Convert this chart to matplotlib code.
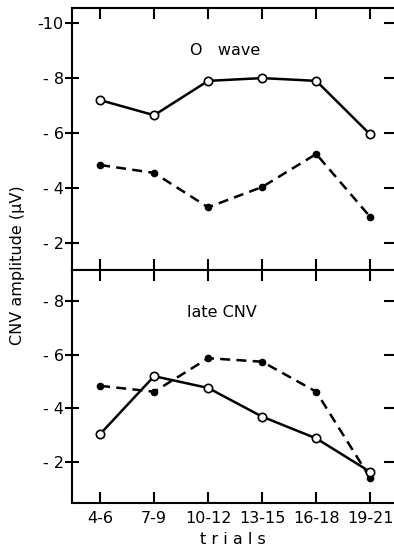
import matplotlib.pyplot as plt

trials = ["4-6", "7-9", "10-12", "13-15", "16-18", "19-21"]

# O wave amplitudes (uV)
owave_solid = [-7.2, -6.65, -7.9, -8.0, -7.9, -5.95]
owave_dashed = [-4.84, -4.55, -3.3, -4.04, -5.24, -2.95]

# late CNV amplitudes (uV)
late_solid = [-3.04, -5.2, -4.76, -3.69, -2.88, -1.63]
late_dashed = [-4.84, -4.62, -5.87, -5.74, -4.62, -1.4]

top_ticks = [-10, -8, -6, -4, -2]
bottom_ticks = [-8, -6, -4, -2]

plt.rcParams['font.family'] = 'DejaVu Sans'
fig = plt.figure(figsize=(3.94, 5.5), dpi=100)
ax1 = fig.add_axes([72 / 394, 1 - 270 / 550, 1 - 72 / 394, 262 / 550])
ax2 = fig.add_axes([72 / 394, 1 - 503 / 550, 1 - 72 / 394, 233 / 550])

x = list(range(len(trials)))


def draw(ax, solid, dashed):
    ax.plot(x, dashed, color='black', lw=1.8, ls=(0, (4, 2.5)),
            marker='o', ms=4.5, mfc='black', mec='black', zorder=3)
    ax.plot(x, solid, color='black', lw=1.8,
            marker='o', ms=6, mfc='white', mec='black', mew=1.2, zorder=4)
    ax.set_xlim(-0.52, 5.44)
    ax.set_xticks(x)
    ax.spines['right'].set_visible(False)
    for s in ['left', 'top', 'bottom']:
        ax.spines[s].set_linewidth(1.5)
    ax.tick_params(axis='x', which='both', direction='in', length=8, width=1.5,
                   top=True, bottom=True, labelsize=11.5, pad=6)
    ax.tick_params(axis='y', direction='inout', length=10, width=1.5,
                   left=True, right=False, labelsize=11.5, pad=1)


draw(ax1, owave_solid, owave_dashed)
ax1.set_ylim(-1.02, -10.55)
ax1.set_yticks(top_ticks)
ax1.set_yticklabels(["-10" if v == -10 else "- %d" % -v for v in top_ticks])
ax1.set_xticklabels([])
ax1.text(1.67, -9.02, "O   wave", fontsize=11.5, va='center')

draw(ax2, late_solid, late_dashed)
ax2.set_ylim(-0.47, -9.16)
ax2.set_yticks(bottom_ticks)
ax2.set_yticklabels(["- %d" % -v for v in bottom_ticks])
ax2.set_xticklabels(trials)
ax2.text(1.61, -7.59, "late CNV", fontsize=11.5, va='center')

# short marks on the right edge
for ax in (ax1, ax2):
    for v in ax.get_yticks():
        ax.plot([5.28, 5.44], [v, v], color='black', lw=1.5, clip_on=False)

fig.text(233 / 394, 1 - 539 / 550, "t r i a l s", fontsize=11.5,
         ha='center', va='center')
fig.text(18 / 394, 1 - 265 / 550, "CNV amplitude (\u03bcV)", rotation=90,
         ha='center', va='center', fontsize=11.5)

fig.savefig('out.png', dpi=100)
